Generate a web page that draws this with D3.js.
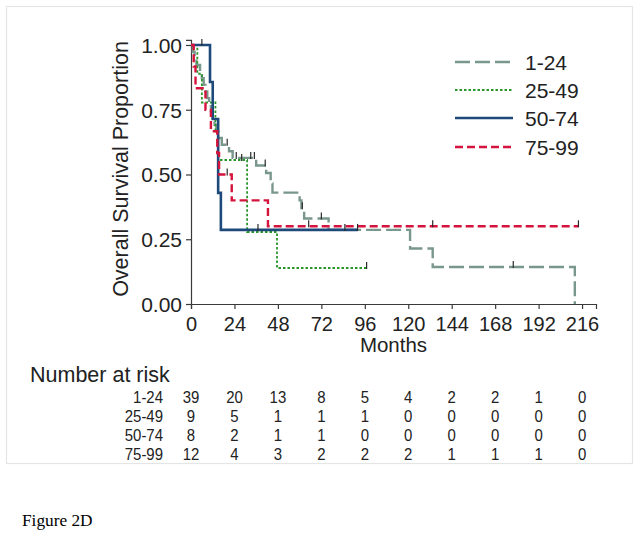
<!DOCTYPE html>
<html><head><meta charset="utf-8">
<script src="https://cdn.jsdelivr.net/npm/d3@7"></script>
<style>body{margin:0;background:#fff}svg{display:block}</style>
</head><body>
<svg id="c" width="641" height="536"></svg>
<script>
// ---- data ----
const groups = ["1-24", "25-49", "50-74", "75-99"];
const xTicks = [0, 24, 48, 72, 96, 120, 144, 168, 192, 216];
const yTicks = [0, 0.25, 0.5, 0.75, 1.0];

const g1Time = [0, 1, 2, 3, 5, 6, 7, 8, 9, 10, 11, 12, 13, 14, 15, 17, 21, 23, 36, 41.5, 44, 45, 60, 61, 62.5, 76, 121, 133.5, 212];
const g1Surv = [1, .974, .949, .923, .897, .872, .846, .821, .795, .769, .744, .718, .692, .667, .641, .615, .59, .564, .535, .506, .465, .43, .40, .37, .33, .286, .214, .143, 0];
const g1Cens = [20, 25, 33, 35, 41, 61.5, 72, 85, 178];
const g1End = 212;

const g2Time = [0, 3.5, 6, 13.5, 15, 31, 47.5];
const g2Surv = [1, .889, .778, .667, .556, .278, .139];
const g2Cens = [28, 97];
const g2End = 97;

const g3Time = [0, 10.5, 12, 15, 16.5];
const g3Surv = [1, .857, .714, .429, .286];
const g3Cens = [6, 37, 92];
const g3End = 92;

const g4Time = [0, 1.5, 2.5, 8, 11, 14.5, 15.5, 22.5, 42.5];
const g4Surv = [1, .917, .833, .75, .667, .583, .5, .4, .3];
const g4Cens = [20, 65, 133.5, 214];
const g4End = 214;

const riskG1 = [39, 20, 13, 8, 5, 4, 2, 2, 1, 0];
const riskG2 = [9, 5, 1, 1, 1, 0, 0, 0, 0, 0];
const riskG3 = [8, 2, 1, 1, 0, 0, 0, 0, 0, 0];
const riskG4 = [12, 4, 3, 2, 2, 2, 1, 1, 1, 0];

// ---- styles ----
const colors = ["#7a978e", "#2a962a", "#1d4a7a", "#d4143c"];
const dashes = ["15,5", "2.5,2", null, "8,4"];
const widths = [2.4, 1.8, 2.6, 2.4];

const svg = d3.select("#c");
const font = "'Liberation Sans', Arial, sans-serif";

// frame
svg.append("rect").attr("x", 6.5).attr("y", 6.5).attr("width", 626).attr("height", 457)
  .attr("fill", "none").attr("stroke", "#e4e6e6").attr("stroke-width", 1.2);

const x = d3.scaleLinear().domain([0, 223.7]).range([191, 596]);
const y = d3.scaleLinear().domain([0, 1.02]).range([304, 39.8]);

// axes
const xAxis = svg.append("g").attr("transform", "translate(0,304)")
  .call(d3.axisBottom(x).tickValues(xTicks).tickSizeOuter(0).tickSize(5).tickPadding(8));
const yAxis = svg.append("g").attr("transform", "translate(191,0)")
  .call(d3.axisLeft(y).tickValues(yTicks).tickSizeOuter(0).tickSize(5).tickPadding(4).tickFormat(d3.format(".2f")));
[xAxis, yAxis].forEach(a => {
  a.selectAll("path,line").attr("stroke", "#3a3a3a").attr("stroke-width", 1.2);
  a.selectAll("text").attr("fill", "#222").style("font-family", font);
});
xAxis.selectAll("text").style("font-size", "20px");
yAxis.selectAll("text").style("font-size", "21px").attr("dy", "0.35em");

svg.append("text").attr("x", 393.5).attr("y", 352).attr("text-anchor", "middle")
  .style("font-family", font).style("font-size", "20.5px").attr("fill", "#222").text("Months");
svg.append("text").attr("transform", "translate(128,169) rotate(-90)").attr("text-anchor", "middle")
  .style("font-family", font).style("font-size", "21.5px").attr("fill", "#222").text("Overall Survival Proportion");

// curves
const series = [
  {t: g1Time, s: g1Surv, c: g1Cens, end: g1End},
  {t: g2Time, s: g2Surv, c: g2Cens, end: g2End},
  {t: g3Time, s: g3Surv, c: g3Cens, end: g3End},
  {t: g4Time, s: g4Surv, c: g4Cens, end: g4End}
];
const line = d3.line().x(d => x(d[0])).y(d => y(d[1])).curve(d3.curveStepAfter);
function survAt(sr, m) {
  let v = 1;
  for (let i = 0; i < sr.t.length; i++) if (sr.t[i] <= m) v = sr.s[i];
  return v;
}
series.forEach((sr, i) => {
  const pts = sr.t.map((t, k) => [t, sr.s[k]]);
  const last = pts[pts.length - 1];
  if (sr.end > last[0]) pts.push([sr.end, last[1]]);
  svg.append("path").attr("d", line(pts)).attr("fill", "none")
    .attr("stroke", colors[i]).attr("stroke-width", widths[i])
    .attr("stroke-dasharray", dashes[i]);
});
series.forEach((sr, i) => {
  svg.append("g").selectAll("line").data(sr.c).join("line")
    .attr("x1", d => x(d)).attr("x2", d => x(d))
    .attr("y1", d => y(survAt(sr, d)) - 6).attr("y2", d => y(survAt(sr, d)) + 1)
    .attr("stroke", "#2a2a2a").attr("stroke-width", 1.2);
});

// legend
const legY = [62, 90, 118, 147];
groups.forEach((g, i) => {
  svg.append("line").attr("x1", 455).attr("x2", 513).attr("y1", legY[i]).attr("y2", legY[i])
    .attr("stroke", colors[i]).attr("stroke-width", widths[i]).attr("stroke-dasharray", dashes[i]);
  svg.append("text").attr("x", 525).attr("y", legY[i] + 7.5)
    .style("font-family", font).style("font-size", "21px").attr("fill", "#222").text(g);
});

// risk table
svg.append("text").attr("x", 30).attr("y", 382).style("font-family", font)
  .style("font-size", "21.5px").attr("fill", "#222").text("Number at risk");
const risk = [riskG1, riskG2, riskG3, riskG4];
const rowY = [403, 422, 441, 460];
const sx = 0.88;
groups.forEach((g, i) => {
  svg.append("text").attr("transform", `translate(163,${rowY[i]}) scale(${sx},1)`).attr("text-anchor", "end")
    .style("font-family", font).style("font-size", "17px").attr("fill", "#222").text(g);
  svg.append("g").selectAll("text").data(risk[i]).join("text")
    .attr("transform", (d, k) => `translate(${x(xTicks[k])},${rowY[i]}) scale(${sx},1)`)
    .attr("text-anchor", "middle")
    .style("font-family", font).style("font-size", "17px").attr("fill", "#222").text(d => d);
});

svg.append("text").attr("x", 22).attr("y", 526)
  .style("font-family", "'Liberation Serif', 'Times New Roman', serif")
  .style("font-size", "17.3px").attr("fill", "#000").text("Figure 2D");
</script>
</body></html>
